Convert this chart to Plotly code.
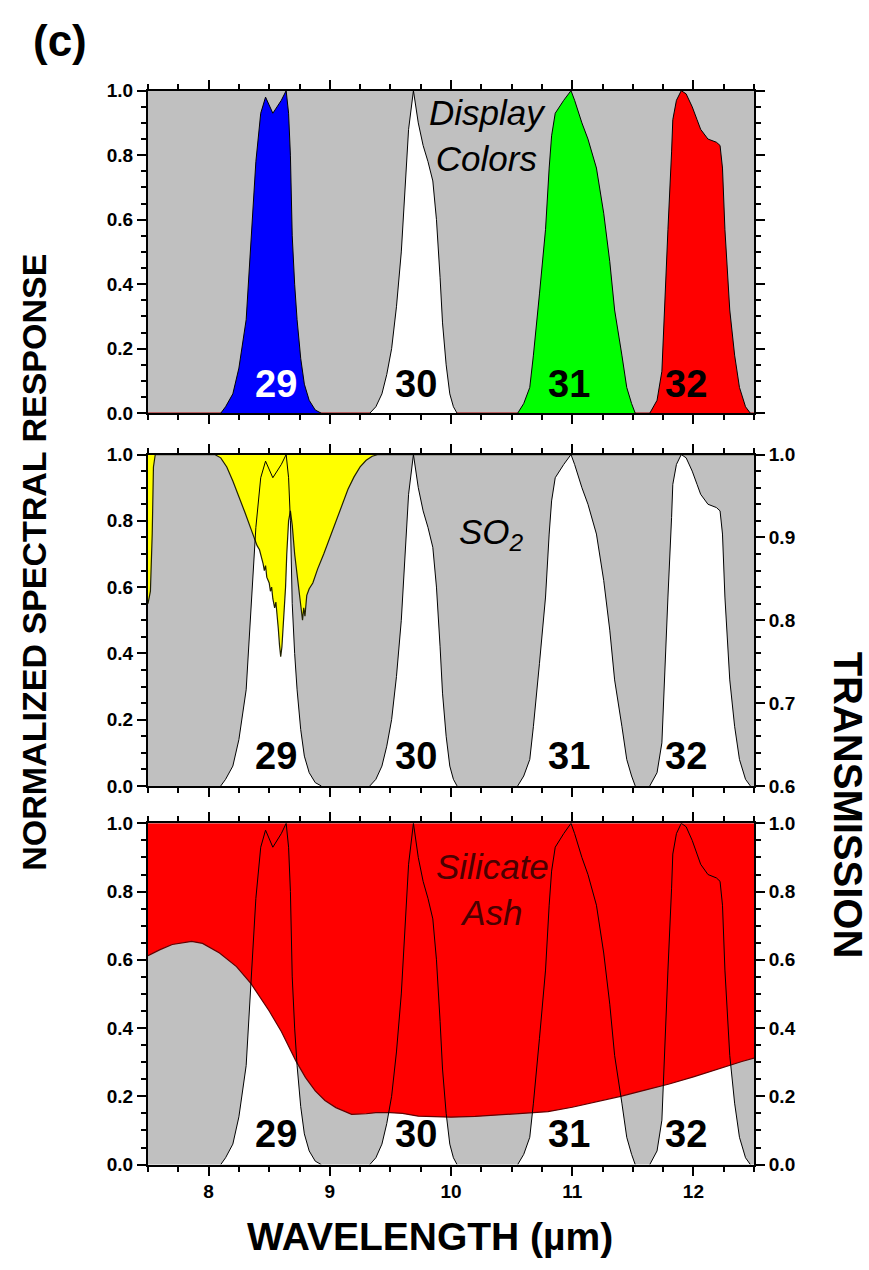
import plotly.graph_objects as go

# ---------------------------------------------------------------- data
X_RANGE = [7.5, 12.5]
FULL_TRANSMISSION = 1.0

band_names = ["29", "30", "31", "32"]
band_label_x = [8.56, 9.71, 10.97, 11.94]
band_label_y = 0.09

# normalized spectral response of the four thermal bands (wavelength in um)
b29_wl = [8.10, 8.14, 8.20, 8.25, 8.31, 8.35, 8.39, 8.43, 8.47, 8.53, 8.60,
          8.64, 8.66, 8.675, 8.69, 8.71, 8.73, 8.76, 8.79, 8.83, 8.88, 8.93]
b29_resp = [0.00, 0.02, 0.06, 0.14, 0.29, 0.53, 0.78, 0.93, 0.98, 0.93, 0.97,
            1.00, 0.93, 0.80, 0.55, 0.40, 0.29, 0.17, 0.09, 0.04, 0.01, 0.00]

b30_wl = [9.33, 9.38, 9.43, 9.47, 9.51, 9.55, 9.59, 9.62, 9.65, 9.69, 9.73,
          9.77, 9.81, 9.85, 9.88, 9.91, 9.93, 9.96, 9.99, 10.02, 10.05]
b30_resp = [0.00, 0.02, 0.06, 0.12, 0.20, 0.33, 0.50, 0.70, 0.88, 1.00, 0.90,
            0.83, 0.78, 0.72, 0.60, 0.42, 0.28, 0.15, 0.06, 0.02, 0.00]

b31_wl = [10.55, 10.60, 10.65, 10.68, 10.73, 10.78, 10.81, 10.83, 10.86, 10.93,
          10.99, 11.02, 11.08, 11.13, 11.20, 11.26, 11.31, 11.35, 11.41, 11.45,
          11.49, 11.52]
b31_resp = [0.00, 0.03, 0.08, 0.18, 0.37, 0.57, 0.76, 0.86, 0.93, 0.97,
            1.00, 0.97, 0.90, 0.85, 0.76, 0.62, 0.47, 0.32, 0.18, 0.08,
            0.03, 0.00]

b32_wl = [11.64, 11.70, 11.74, 11.76, 11.79, 11.82, 11.83, 11.86, 11.90, 11.94,
          11.99, 12.03, 12.06, 12.12, 12.19, 12.22, 12.24, 12.26, 12.30, 12.34,
          12.38, 12.43, 12.47]
b32_resp = [0.00, 0.04, 0.13, 0.32, 0.57, 0.81, 0.91, 0.97, 1.00, 0.99,
            0.95, 0.91, 0.88, 0.85, 0.84, 0.83, 0.76, 0.57, 0.32, 0.18,
            0.08, 0.02, 0.00]

# SO2 transmission
so2_wl = [7.50, 7.52, 7.535, 7.545, 7.56, 8.00, 8.05, 8.10, 8.15, 8.20, 8.25,
          8.30, 8.35, 8.38, 8.40, 8.42, 8.44, 8.45, 8.46, 8.47, 8.48, 8.50,
          8.51, 8.52, 8.53, 8.545, 8.555, 8.565, 8.575, 8.585, 8.595, 8.605,
          8.615, 8.625, 8.635, 8.645, 8.66, 8.675, 8.69, 8.71, 8.73, 8.745,
          8.755, 8.765, 8.775, 8.785, 8.795, 8.81, 8.83, 8.86, 8.90, 8.95,
          9.00, 9.05, 9.10, 9.15, 9.20, 9.25, 9.30, 9.35, 9.40, 12.50]
so2_trans = [0.820, 0.835, 0.905, 0.985, 1.000, 1.000, 1.000, 0.996, 0.985,
             0.968, 0.950, 0.930, 0.910, 0.898, 0.890, 0.885, 0.875, 0.868,
             0.860, 0.866, 0.852, 0.845, 0.835, 0.840, 0.826, 0.815, 0.822,
             0.800, 0.790, 0.770, 0.756, 0.768, 0.790, 0.810, 0.840, 0.880,
             0.920, 0.932, 0.915, 0.880, 0.855, 0.838, 0.825, 0.812, 0.800,
             0.815, 0.805, 0.830, 0.838, 0.845, 0.862, 0.880, 0.900, 0.920,
             0.940, 0.958, 0.973, 0.985, 0.993, 0.998, 1.000, 1.000]

# silicate ash transmission
ash_wl = [7.50, 7.60, 7.70, 7.80, 7.86, 7.95, 8.09, 8.23, 8.35, 8.50, 8.60,
          8.72, 8.80, 8.88, 8.96, 9.05, 9.18, 9.30, 9.38, 9.50, 9.60, 9.73,
          9.85, 10.00, 10.20, 10.40, 10.60, 10.80, 11.00, 11.20, 11.40, 11.60,
          11.80, 12.00, 12.20, 12.40, 12.50]
ash_trans = [0.612, 0.630, 0.645, 0.652, 0.654, 0.648, 0.620, 0.580, 0.530,
             0.450, 0.390, 0.304, 0.255, 0.216, 0.188, 0.167, 0.147, 0.149,
             0.152, 0.152, 0.150, 0.142, 0.140, 0.139, 0.141, 0.146, 0.150,
             0.155, 0.168, 0.183, 0.200, 0.218, 0.236, 0.257, 0.280, 0.302,
             0.312]

bands_wl = [b29_wl, b30_wl, b31_wl, b32_wl]
bands_resp = [b29_resp, b30_resp, b31_resp, b32_resp]

# ---------------------------------------------------------------- style
FONT = "Liberation Sans, Arial, sans-serif"
GRAY = "#c0c0c0"
display_fill = ["#0000ff", "#ffffff", "#00ff00", "#ff0000"]
label_colors = ["#ffffff", "#000000", "#000000", "#000000"]

W, H = 869, 1270
X_DOM = [148 / W, 754 / W]
TOP_DOM = [1 - 410 / H, 1 - 82 / H]
MID_DOM = [1 - 789 / H, 1 - 452 / H]
BOT_DOM = [1 - 1174 / H, 1 - 827 / H]

fig = go.Figure()

# ---- top panel: bands filled with their display colours
fig.add_trace(go.Scatter(x=X_RANGE, y=[0, 0], mode="lines",
                         line=dict(color="#b00000", width=1.5),
                         xaxis="x", yaxis="y", hoverinfo="skip"))
for wl, resp, col in zip(bands_wl, bands_resp, display_fill):
    fig.add_trace(go.Scatter(x=wl, y=resp, mode="lines", fill="tozeroy",
                             fillcolor=col, line=dict(color="black", width=1),
                             xaxis="x", yaxis="y", hoverinfo="skip"))

# ---- middle panel: white bands, SO2 absorption in yellow, outlines on top
for wl, resp in zip(bands_wl, bands_resp):
    fig.add_trace(go.Scatter(x=wl, y=resp, mode="lines", fill="tozeroy",
                             fillcolor="white", line=dict(width=0),
                             xaxis="x2", yaxis="y2", hoverinfo="skip"))
fig.add_trace(go.Scatter(x=so2_wl + so2_wl[::-1],
                         y=so2_trans + [FULL_TRANSMISSION] * len(so2_wl),
                         mode="lines", fill="toself", fillcolor="#ffff00",
                         line=dict(width=0), xaxis="x2", yaxis="y3",
                         hoverinfo="skip"))
fig.add_trace(go.Scatter(x=so2_wl, y=so2_trans, mode="lines",
                         line=dict(color="#202000", width=1.2),
                         xaxis="x2", yaxis="y3", hoverinfo="skip"))
for wl, resp in zip(bands_wl, bands_resp):
    fig.add_trace(go.Scatter(x=wl, y=resp, mode="lines",
                             line=dict(color="black", width=1),
                             xaxis="x2", yaxis="y4", hoverinfo="skip"))

# ---- bottom panel: white bands, silicate ash absorption in red
for wl, resp in zip(bands_wl, bands_resp):
    fig.add_trace(go.Scatter(x=wl, y=resp, mode="lines", fill="tozeroy",
                             fillcolor="white", line=dict(width=0),
                             xaxis="x3", yaxis="y5", hoverinfo="skip"))
fig.add_trace(go.Scatter(x=ash_wl + ash_wl[::-1],
                         y=ash_trans + [FULL_TRANSMISSION] * len(ash_wl),
                         mode="lines", fill="toself", fillcolor="#ff0000",
                         line=dict(width=0), xaxis="x3", yaxis="y6",
                         hoverinfo="skip"))
fig.add_trace(go.Scatter(x=ash_wl, y=ash_trans, mode="lines",
                         line=dict(color="#600000", width=1.2),
                         xaxis="x3", yaxis="y6", hoverinfo="skip"))
for wl, resp in zip(bands_wl, bands_resp):
    fig.add_trace(go.Scatter(x=wl, y=resp, mode="lines",
                             line=dict(color="black", width=1),
                             xaxis="x3", yaxis="y7", hoverinfo="skip"))

# ---------------------------------------------------------------- axes
tickfont = dict(family=FONT, size=19, color="black", weight="bold")


def xax(anchor, show_labels):
    return dict(domain=X_DOM, range=X_RANGE, anchor=anchor,
                showline=True, linecolor="black", linewidth=2,
                mirror="ticks", ticks="outside", ticklen=9, tickwidth=1.5,
                tickcolor="black", dtick=1, tick0=8,
                minor=dict(dtick=0.25, ticklen=5, tickwidth=1.5,
                           ticks="outside", tickcolor="black"),
                showticklabels=show_labels, tickfont=tickfont,
                showgrid=False, zeroline=False, fixedrange=True)


def yax(domain, anchor, rng, dtick, minor_dtick, side="left", mirror=False,
        overlaying=None):
    d = dict(domain=domain, range=rng, anchor=anchor, side=side,
             showline=True, linecolor="black", linewidth=2,
             mirror="ticks" if mirror else False,
             ticks="outside", ticklen=9, tickwidth=1.5, tickcolor="black",
             dtick=dtick, tick0=0, tickformat=".1f",
             minor=dict(dtick=minor_dtick, ticklen=5, tickwidth=1.5,
                        ticks="outside", tickcolor="black"),
             tickfont=tickfont, showgrid=False, zeroline=False,
             fixedrange=True)
    if overlaying:
        d["overlaying"] = overlaying
    return d


def hidden(domain, anchor, overlaying):
    return dict(domain=domain, range=[0, 1], anchor=anchor,
                overlaying=overlaying, visible=False, fixedrange=True)


fig.update_layout(
    xaxis=xax("y", False),
    xaxis2=xax("y2", False),
    xaxis3=xax("y5", True),
    yaxis=yax(TOP_DOM, "x", [0, 1], 0.2, 0.05, mirror=True),
    yaxis2=yax(MID_DOM, "x2", [0, 1], 0.2, 0.05),
    yaxis3=yax(MID_DOM, "x2", [0.6, 1.0], 0.1, 0.02, side="right",
               overlaying="y2"),
    yaxis4=hidden(MID_DOM, "x2", "y2"),
    yaxis5=yax(BOT_DOM, "x3", [0, 1], 0.2, 0.05),
    yaxis6=yax(BOT_DOM, "x3", [0, 1], 0.2, 0.05, side="right",
               overlaying="y5"),
    yaxis7=hidden(BOT_DOM, "x3", "y5"),
)

# ---------------------------------------------------------------- text
ann = []
for name, lx, lc in zip(band_names, band_label_x, label_colors):
    for xr, yr, c in (("x", "y", lc), ("x2", "y2", "black"),
                      ("x3", "y5", "black")):
        ann.append(dict(x=lx, y=band_label_y, xref=xr, yref=yr,
                        text=f"<b>{name}</b>", showarrow=False,
                        xanchor="center", yanchor="middle",
                        font=dict(family=FONT, size=38, color=c)))


def paper_text(px, py, text, size, angle=0):
    return dict(x=px / W, y=1 - py / H, xref="paper", yref="paper",
                text=text, textangle=angle, showarrow=False,
                xanchor="center", yanchor="middle",
                font=dict(family=FONT, size=size, color="black"))


ann += [
    dict(x=10.30, y=0.86, xref="x", yref="y", text="<i>Display<br>Colors</i>",
         showarrow=False, xanchor="center", yanchor="middle",
         font=dict(family=FONT, size=35, color="black")),
    dict(x=10.33, y=0.76, xref="x2", yref="y2", text="<i>SO<sub>2</sub></i>",
         showarrow=False, xanchor="center", yanchor="middle",
         font=dict(family=FONT, size=35, color="black")),
    dict(x=10.34, y=0.805, xref="x3", yref="y5", text="<i>Silicate<br>Ash</i>",
         showarrow=False, xanchor="center", yanchor="middle",
         font=dict(family=FONT, size=35, color="#4a0000")),
    paper_text(60, 31, "<b>(c)</b>", 44),
    paper_text(34, 562, "<b>NORMALIZED SPECTRAL RESPONSE</b>", 34, -90),
    paper_text(848, 808, "<b>TRANSMISSION</b>", 40, 90),
    paper_text(430, 1247, "<b>WAVELENGTH (\u00b5m)</b>", 39),
]

fig.update_layout(
    width=W, height=H, margin=dict(l=0, r=0, t=0, b=0),
    paper_bgcolor="white", plot_bgcolor=GRAY, showlegend=False,
    annotations=ann, font=dict(family=FONT, color="black"),
)

fig.write_html("out.html", config={"displayModeBar": False})
